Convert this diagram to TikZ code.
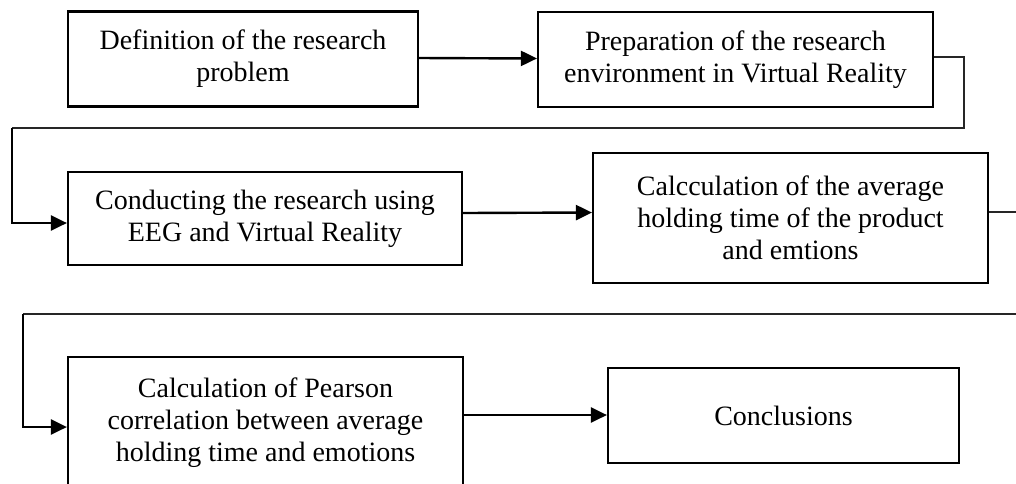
\documentclass[tikz,border=0pt]{standalone}
\usepackage{fontspec}
\setmainfont{Liberation Serif}
\usetikzlibrary{arrows.meta}
\begin{document}
\begin{tikzpicture}[x=1pt,y=-1pt,
  box/.style={draw=black, line width=2.2pt, rectangle, inner sep=0pt, align=center,
    font=\fontsize{28}{32}\selectfont},
  conthin/.style={draw=black!85, line width=1.1pt},
  conthick/.style={draw=black, line width=2.4pt},
  arr/.style={conthick, -{Triangle[length=16pt,width=15pt]}}]
\path[use as bounding box, clip] (0,0) rectangle (1016,483);
\fill[white] (0,0) rectangle (1016,483);
% boxes
\node[box, minimum width=350pt, minimum height=95pt] (b1) at (243,59) {Definition of the research\\problem};
\node[box, minimum width=395pt, minimum height=95pt] (b2) at (735.5,59.5) {Preparation of the research\\environment in Virtual Reality};
\node[box, minimum width=394pt, minimum height=93pt] (b3) at (265,218.5) {Conducting the research using\\EEG and Virtual Reality};
\node[box, minimum width=395pt, minimum height=130pt] (b4) at (790.5,218) {Calcculation of the average\\holding time of the product\\and emtions};
\node[box, minimum width=395pt, minimum height=132pt] (b5) at (265.5,423) {Calculation of Pearson\\correlation between average\\holding time and emotions};
\node[box, minimum width=351pt, minimum height=95pt] (b6) at (783.5,415.5) {Conclusions};
% corner coordinates
\coordinate (k1) at (964,57);
\coordinate (k2) at (964,128);
\coordinate (k3) at (12,128);
\coordinate (k4) at (1020,212);
\coordinate (k5) at (1020,314);
\coordinate (k6) at (23,314);
% connectors
\draw[arr] ([yshift=1pt]b1.east) -- ([yshift=1pt]b2.west);
\draw[conthin] ([yshift=2.5pt]b2.east) -- (k1) -- (k2) -- (k3);
\draw[arr] (k3) |- ([yshift=-4.5pt]b3.west);
\draw[arr] ([yshift=5.5pt]b3.east) -- ([yshift=5.5pt]b4.west);
\draw[conthin] ([yshift=6pt]b4.east) -- (k4) -- (k5) -- (k6);
\draw[arr] (k6) |- ([yshift=-4pt]b5.west);
\draw[arr] ([yshift=8pt]b5.east) -- ([yshift=0.5pt]b6.west);
\end{tikzpicture}
\end{document}
